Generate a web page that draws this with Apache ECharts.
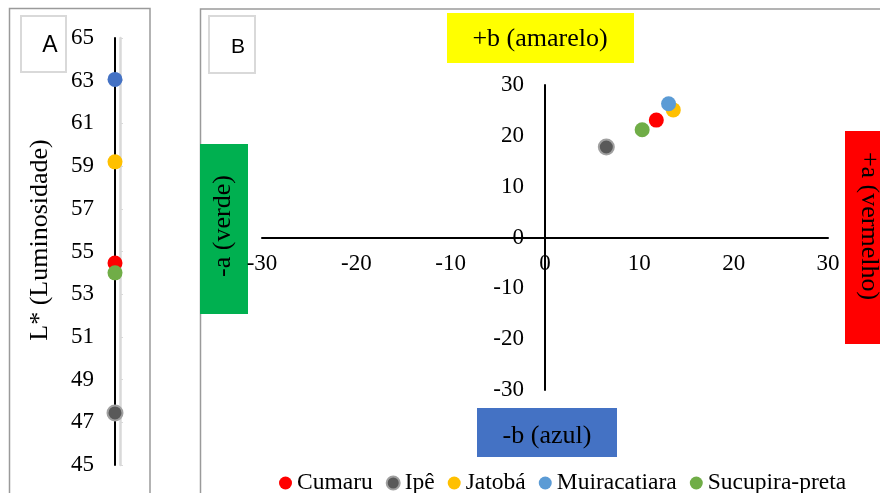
<!DOCTYPE html>
<html>
<head>
<meta charset="utf-8">
<script src="https://cdn.jsdelivr.net/npm/echarts@6/dist/echarts.min.js"></script>
<style>html,body{margin:0;padding:0;background:#fff}#c{width:880px;height:493px}</style>
</head>
<body>
<div id="c"></div>
<script>
const names = ['Cumaru', 'Ipê', 'Jatobá', 'Muiracatiara', 'Sucupira-preta'];
const lValues = [54.46, 47.44, 59.2, 63.06, 54.0];
const aValues = [11.8, 6.5, 13.6, 13.1, 10.3];
const bValues = [23.1, 17.8, 25.1, 26.3, 21.2];
const colorsB = ['#FF0000', '#595959', '#FFC000', '#5B9BD5', '#70AD47'];
const colorsA = ['#FF0000', '#595959', '#FFC000', '#4472C4', '#70AD47'];
const lAxis = { min: 45, max: 65, interval: 2 };
const abAxis = { min: -30, max: 30, interval: 10 };

const serif = 'Liberation Serif';
const chart = echarts.init(document.getElementById('c'), null, { renderer: 'canvas' });

function itemStyleFor(i, colors) {
  const s = { color: colors[i], opacity: 1 };
  if (names[i] === 'Ipê') { s.borderColor = '#a0a0a0'; s.borderWidth = 2; }
  return s;
}

const seriesA = {
  type: 'scatter', name: 'L*', xAxisIndex: 0, yAxisIndex: 0, symbolSize: 15, clip: false,
  data: names.map((n, i) => ({ name: n, value: [0, lValues[i]], itemStyle: itemStyleFor(i, colorsA) }))
};
const seriesB = names.map((n, i) => ({
  type: 'scatter', name: n, xAxisIndex: 1, yAxisIndex: 2, symbolSize: 15, clip: false,
  itemStyle: itemStyleFor(i, colorsB),
  data: [[aValues[i], bValues[i]]]
}));

const labelStyle = { color: '#000', fontFamily: serif, fontSize: 23 };

// grid B geometry
const gB = { left: 262, right: 52, top: 85, bottom: 103 };
const gBw = 880 - gB.left - gB.right;
const gBh = 493 - gB.top - gB.bottom;

const option = {
  animation: false,
  backgroundColor: '#fff',
  grid: [
    { left: 115, top: 38, width: 5, bottom: 28 },
    gB
  ],
  xAxis: [
    { gridIndex: 0, type: 'value', min: 0, max: 1, show: false },
    { gridIndex: 1, type: 'value', position: 'bottom', offset: -gBh / 2,
      min: abAxis.min, max: abAxis.max, interval: abAxis.interval,
      axisLine: { onZero: false, lineStyle: { color: '#000', width: 2 } },
      axisTick: { show: false }, splitLine: { show: false },
      axisLabel: Object.assign({ margin: 15 }, labelStyle) }
  ],
  yAxis: [
    { gridIndex: 0, type: 'value', position: 'left', min: lAxis.min, max: lAxis.max, interval: lAxis.interval,
      axisLine: { show: true, onZero: false, lineStyle: { color: '#000', width: 2 } },
      axisTick: { show: false }, splitLine: { show: false },
      axisLabel: Object.assign({ margin: 21 }, labelStyle) },
    { gridIndex: 0, type: 'value', position: 'right', min: lAxis.min, max: lAxis.max, interval: lAxis.interval,
      axisLine: { show: true, onZero: false, lineStyle: { color: '#d9d9d9', width: 2.5 } },
      axisTick: { show: true, length: 3, lineStyle: { color: '#d9d9d9' } },
      splitLine: { show: false }, axisLabel: { show: false } },
    { gridIndex: 1, type: 'value', position: 'left', offset: -gBw / 2,
      min: abAxis.min, max: abAxis.max, interval: abAxis.interval,
      axisLine: { show: true, onZero: false, lineStyle: { color: '#000', width: 2 } },
      axisTick: { show: false }, splitLine: { show: false },
      axisLabel: Object.assign({ margin: 21 }, labelStyle) }
  ],
  legend: {
    data: names, left: 274, top: 466, icon: 'circle', itemWidth: 13, itemHeight: 13, itemGap: 13,
    textStyle: { color: '#000', fontFamily: serif, fontSize: 23.5 }
  },
  graphic: [
    { type: 'rect', z: -10, shape: { x: 9.5, y: 8.5, width: 140.5, height: 500 }, style: { fill: 'none', stroke: '#9a9a9a', lineWidth: 1.5 } },
    { type: 'rect', z: -10, shape: { x: 200.5, y: 9, width: 700, height: 500 }, style: { fill: 'none', stroke: '#9a9a9a', lineWidth: 1.5 } },
    { type: 'rect', shape: { x: 21, y: 16, width: 45, height: 56 }, style: { fill: '#fff', stroke: '#d9d9d9', lineWidth: 2 } },
    { type: 'text', x: 50, y: 46, style: { text: 'A', font: '23px "Liberation Sans"', fill: '#000', align: 'center', verticalAlign: 'middle' } },
    { type: 'rect', shape: { x: 209, y: 16, width: 46, height: 57 }, style: { fill: '#fff', stroke: '#d9d9d9', lineWidth: 2 } },
    { type: 'text', x: 238, y: 47, style: { text: 'B', font: '21px "Liberation Sans"', fill: '#000', align: 'center', verticalAlign: 'middle' } },
    { type: 'text', x: 40, y: 240, rotation: Math.PI / 2, style: { text: 'L* (Luminosidade)', font: '26px "Liberation Serif"', fill: '#000', align: 'center', verticalAlign: 'middle' } },
    { type: 'rect', shape: { x: 447, y: 13, width: 187, height: 50 }, style: { fill: '#FFFF00' } },
    { type: 'text', x: 540, y: 39, style: { text: '+b (amarelo)', font: '26px "Liberation Serif"', fill: '#000', align: 'center', verticalAlign: 'middle' } },
    { type: 'rect', shape: { x: 477, y: 408, width: 140, height: 49 }, style: { fill: '#4472C4' } },
    { type: 'text', x: 547, y: 436, style: { text: '-b (azul)', font: '26px "Liberation Serif"', fill: '#000', align: 'center', verticalAlign: 'middle' } },
    { type: 'rect', shape: { x: 200, y: 144, width: 48, height: 170 }, style: { fill: '#00B050' } },
    { type: 'text', x: 223, y: 226, rotation: Math.PI / 2, style: { text: '-a (verde)', font: '26px "Liberation Serif"', fill: '#000', align: 'center', verticalAlign: 'middle' } },
    { type: 'rect', shape: { x: 845, y: 131, width: 40, height: 213 }, style: { fill: '#FF0000' } },
    { type: 'text', x: 869, y: 226, rotation: -Math.PI / 2, style: { text: '+a (vermelho)', font: '26px "Liberation Serif"', fill: '#000', align: 'center', verticalAlign: 'middle' } }
  ],
  series: [seriesA].concat(seriesB)
};
chart.setOption(option);
</script>
</body>
</html>
